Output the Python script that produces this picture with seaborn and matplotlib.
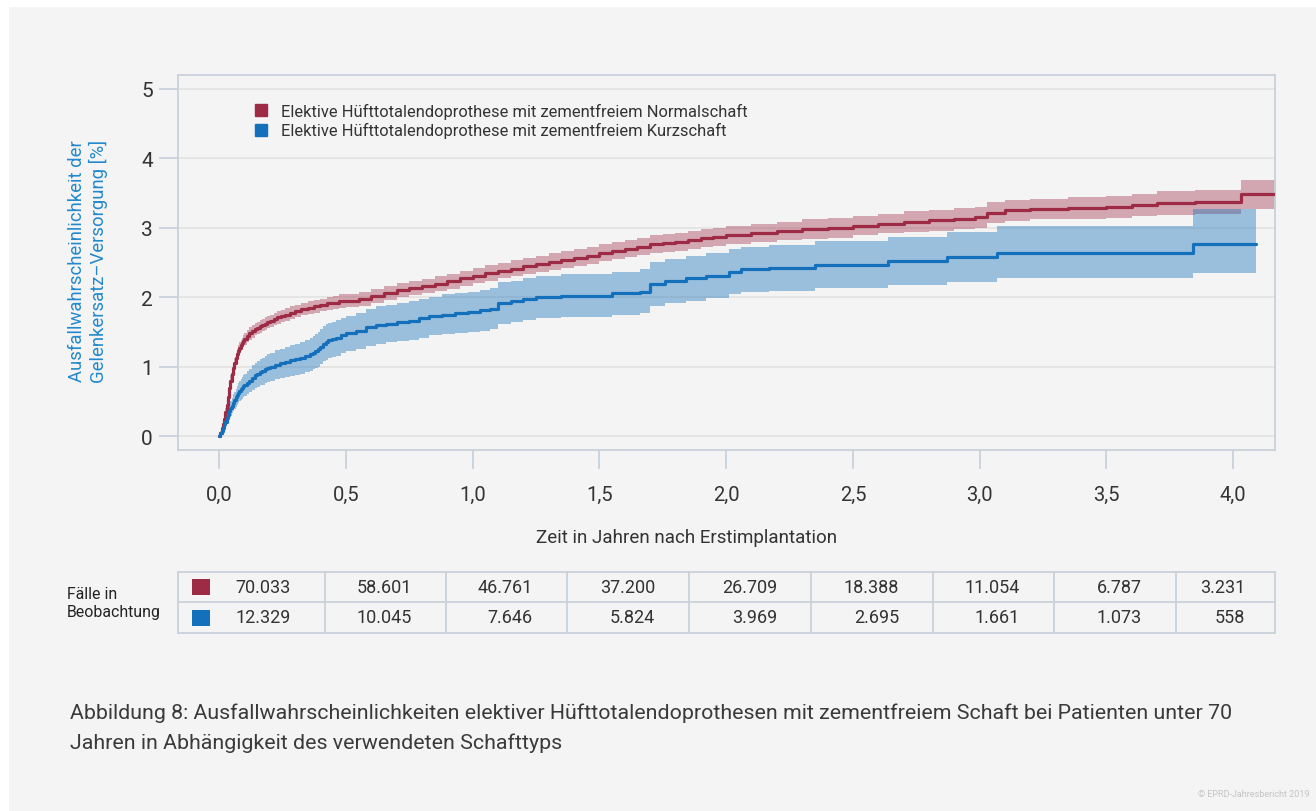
import matplotlib
matplotlib.use("Agg")
import matplotlib.pyplot as plt
from matplotlib.lines import Line2D
from matplotlib.patches import Rectangle
import pandas as pd
import seaborn as sns

# ── Data ────────────────────────────────────────────────────────────────────
LABEL_NORMAL = "Elektive Hüfttotalendoprothese mit zementfreiem Normalschaft"
LABEL_KURZ = "Elektive Hüfttotalendoprothese mit zementfreiem Kurzschaft"

t_normal = [0, 0.005, 0.01, 0.015, 0.02, 0.025, 0.03, 0.035, 0.04, 0.045,
            0.05, 0.055, 0.06, 0.065, 0.07, 0.075, 0.08, 0.085, 0.09, 0.095,
            0.10, 0.11, 0.12, 0.13, 0.14, 0.15, 0.16, 0.17, 0.18, 0.19,
            0.20, 0.215, 0.23, 0.245, 0.26, 0.28, 0.30, 0.325, 0.35, 0.375,
            0.40, 0.425, 0.45, 0.475, 0.50,
            0.55, 0.60, 0.65, 0.70, 0.75, 0.80, 0.85, 0.90, 0.95, 1.00, 1.05, 1.10,
            1.15, 1.20, 1.25, 1.30, 1.35, 1.40, 1.45, 1.50, 1.55, 1.60, 1.65, 1.70,
            1.75, 1.80, 1.85, 1.90, 1.95, 2.00, 2.10, 2.20, 2.30, 2.40, 2.50, 2.60,
            2.70, 2.80, 2.90, 2.98, 3.03, 3.10, 3.20, 3.35, 3.50, 3.60, 3.70, 3.85,
            4.03, 4.17]
est_normal = [0, 0.05, 0.12, 0.18, 0.25, 0.35, 0.45, 0.57, 0.70, 0.80,
              0.90, 0.98, 1.05, 1.12, 1.18, 1.23, 1.27, 1.31, 1.34, 1.37,
              1.40, 1.44, 1.48, 1.51, 1.54, 1.56, 1.58, 1.60, 1.62, 1.64,
              1.66, 1.69, 1.71, 1.73, 1.75, 1.78, 1.80, 1.83, 1.85, 1.87,
              1.89, 1.91, 1.92, 1.94, 1.95,
              1.98, 2.02, 2.06, 2.10, 2.13, 2.16, 2.19, 2.23, 2.27, 2.31, 2.35, 2.38,
              2.41, 2.45, 2.48, 2.51, 2.54, 2.57, 2.60, 2.64, 2.67, 2.70, 2.73, 2.76,
              2.78, 2.80, 2.82, 2.85, 2.87, 2.89, 2.92, 2.95, 2.98, 3.00, 3.03, 3.06,
              3.09, 3.11, 3.13, 3.15, 3.22, 3.25, 3.27, 3.29, 3.30, 3.33, 3.36, 3.37,
              3.48, 3.48]
lo_normal = [0, 0.03, 0.08, 0.13, 0.19, 0.29, 0.38, 0.50, 0.62, 0.72,
             0.82, 0.90, 0.97, 1.04, 1.10, 1.15, 1.19, 1.23, 1.26, 1.29,
             1.31, 1.35, 1.39, 1.42, 1.45, 1.47, 1.49, 1.51, 1.53, 1.55,
             1.57, 1.60, 1.62, 1.64, 1.66, 1.69, 1.71, 1.74, 1.76, 1.78,
             1.80, 1.82, 1.83, 1.85, 1.86,
             1.88, 1.92, 1.96, 2.00, 2.03, 2.06, 2.09, 2.12, 2.16, 2.20, 2.24, 2.27,
             2.30, 2.33, 2.36, 2.39, 2.42, 2.45, 2.48, 2.52, 2.55, 2.58, 2.61, 2.63,
             2.65, 2.67, 2.69, 2.72, 2.74, 2.76, 2.79, 2.82, 2.84, 2.86, 2.89, 2.92,
             2.94, 2.96, 2.98, 3.00, 3.07, 3.10, 3.12, 3.13, 3.14, 3.17, 3.19, 3.20,
             3.27, 3.27]
hi_normal = [0, 0.07, 0.16, 0.23, 0.31, 0.41, 0.52, 0.64, 0.78, 0.88,
             0.98, 1.06, 1.13, 1.20, 1.26, 1.31, 1.35, 1.39, 1.42, 1.45,
             1.49, 1.53, 1.57, 1.60, 1.63, 1.65, 1.67, 1.69, 1.71, 1.73,
             1.75, 1.78, 1.80, 1.82, 1.84, 1.87, 1.89, 1.92, 1.94, 1.96,
             1.98, 2.00, 2.02, 2.04, 2.05,
             2.08, 2.12, 2.16, 2.20, 2.23, 2.26, 2.30, 2.34, 2.38, 2.42, 2.46, 2.49,
             2.53, 2.57, 2.60, 2.63, 2.66, 2.69, 2.72, 2.76, 2.79, 2.82, 2.85, 2.89,
             2.91, 2.93, 2.95, 2.98, 3.00, 3.02, 3.05, 3.08, 3.12, 3.14, 3.17, 3.20,
             3.24, 3.26, 3.28, 3.30, 3.37, 3.40, 3.42, 3.45, 3.46, 3.49, 3.53, 3.54,
             3.69, 3.69]

t_kurz = [0, 0.005, 0.01, 0.015, 0.02, 0.025, 0.03, 0.035, 0.04, 0.045,
          0.05, 0.055, 0.06, 0.065, 0.07, 0.075, 0.08, 0.085, 0.09, 0.095,
          0.10, 0.11, 0.12, 0.13, 0.14, 0.15, 0.16, 0.17, 0.18, 0.19,
          0.20, 0.22, 0.24, 0.26, 0.28, 0.30, 0.32, 0.34, 0.36, 0.37,
          0.38, 0.39, 0.40, 0.41, 0.42, 0.43, 0.445, 0.46, 0.48, 0.50,
          0.54, 0.58, 0.62, 0.66, 0.70, 0.75, 0.79, 0.83, 0.88,
          0.93, 0.98, 1.03, 1.07, 1.10, 1.15, 1.20, 1.25, 1.35, 1.48, 1.55, 1.66,
          1.70, 1.76, 1.84, 1.92, 2.01, 2.06, 2.17, 2.35, 2.64, 2.87, 3.07, 3.84,
          4.09]
est_kurz = [0, 0.04, 0.08, 0.12, 0.17, 0.21, 0.26, 0.31, 0.36, 0.40,
            0.44, 0.48, 0.52, 0.56, 0.59, 0.62, 0.65, 0.68, 0.70, 0.72,
            0.74, 0.77, 0.80, 0.84, 0.88, 0.90, 0.92, 0.94, 0.96, 0.98,
            1.00, 1.03, 1.05, 1.07, 1.09, 1.11, 1.13, 1.15, 1.18, 1.20,
            1.22, 1.25, 1.29, 1.33, 1.36, 1.38, 1.40, 1.42, 1.45, 1.48,
            1.52, 1.57, 1.60, 1.62, 1.64, 1.66, 1.70, 1.73, 1.75,
            1.77, 1.79, 1.81, 1.83, 1.92, 1.94, 1.97, 2.00, 2.02, 2.02, 2.06, 2.08,
            2.19, 2.23, 2.27, 2.31, 2.37, 2.40, 2.42, 2.47, 2.52, 2.58, 2.63, 2.77,
            2.77]
lo_kurz = [0, 0.02, 0.04, 0.07, 0.11, 0.14, 0.18, 0.22, 0.26, 0.29,
           0.33, 0.36, 0.39, 0.42, 0.45, 0.48, 0.50, 0.52, 0.54, 0.56,
           0.58, 0.60, 0.63, 0.67, 0.70, 0.71, 0.73, 0.74, 0.76, 0.78,
           0.80, 0.82, 0.83, 0.85, 0.87, 0.88, 0.90, 0.92, 0.94, 0.96,
           0.98, 1.00, 1.04, 1.08, 1.10, 1.12, 1.14, 1.16, 1.19, 1.22,
           1.26, 1.30, 1.33, 1.35, 1.37, 1.39, 1.42, 1.45, 1.47,
           1.48, 1.50, 1.52, 1.54, 1.62, 1.64, 1.67, 1.70, 1.72, 1.72, 1.75, 1.77,
           1.87, 1.91, 1.95, 1.99, 2.04, 2.07, 2.09, 2.13, 2.17, 2.22, 2.28, 2.35,
           2.35]
hi_kurz = [0, 0.06, 0.12, 0.17, 0.23, 0.28, 0.34, 0.40, 0.46, 0.51,
           0.55, 0.60, 0.64, 0.68, 0.72, 0.76, 0.79, 0.82, 0.85, 0.88,
           0.90, 0.94, 0.97, 1.02, 1.06, 1.08, 1.11, 1.13, 1.15, 1.18,
           1.20, 1.24, 1.26, 1.29, 1.31, 1.33, 1.36, 1.38, 1.42, 1.44,
           1.47, 1.50, 1.54, 1.58, 1.61, 1.63, 1.65, 1.67, 1.70, 1.73,
           1.78, 1.83, 1.87, 1.89, 1.91, 1.94, 1.98, 2.01, 2.04,
           2.06, 2.08, 2.10, 2.13, 2.22, 2.24, 2.27, 2.30, 2.33, 2.33, 2.37, 2.40,
           2.51, 2.55, 2.59, 2.63, 2.70, 2.73, 2.75, 2.81, 2.87, 2.94, 3.03, 3.27,
           3.27]

x_ticks = [0.0, 0.5, 1.0, 1.5, 2.0, 2.5, 3.0, 3.5, 4.0]
x_tick_labels = ["0,0", "0,5", "1,0", "1,5", "2,0", "2,5", "3,0", "3,5", "4,0"]
y_ticks = [0, 1, 2, 3, 4, 5]

cases_normal = [70033, 58601, 46761, 37200, 26709, 18388, 11054, 6787, 3231]
cases_kurz = [12329, 10045, 7646, 5824, 3969, 2695, 1661, 1073, 558]

# ── Style ───────────────────────────────────────────────────────────────────
RED = "#9e2b46"
BLUE = "#1470bb"
BG = "#f4f4f4"
FRAME = "#c9d1dc"
TEXT = "#333333"
W, H = 1316, 812

sns.set_theme(style="white")
plt.rcParams["font.family"] = ["Roboto", "DejaVu Sans"]

fig = plt.figure(figsize=(W / 100, H / 100), dpi=100)
fig.patch.set_facecolor("white")

# overlay in pixel coordinates for background, table and free text
ov = fig.add_axes([0, 0, 1, 1], zorder=0)
ov.set_xlim(0, W)
ov.set_ylim(H, 0)
ov.axis("off")
ov.add_patch(Rectangle((9, 8), W - 9, H - 8, color=BG, lw=0))

ax = fig.add_axes([178 / W, 1 - 451 / H, (1275 - 178) / W, (451 - 76) / H], zorder=1)
ax.set_facecolor(BG)

# ── Curves ──────────────────────────────────────────────────────────────────
df_n = pd.DataFrame({"t": t_normal, "est": est_normal, "lo": lo_normal, "hi": hi_normal})
df_k = pd.DataFrame({"t": t_kurz, "est": est_kurz, "lo": lo_kurz, "hi": hi_kurz})

ax.fill_between(df_n["t"], df_n["lo"], df_n["hi"], step="post", color=RED, alpha=0.38, lw=0, zorder=2)
ax.fill_between(df_k["t"], df_k["lo"], df_k["hi"], step="post", color=BLUE, alpha=0.4, lw=0, zorder=3)
sns.lineplot(data=df_n, x="t", y="est", ax=ax, color=RED, linewidth=2.3,
             drawstyle="steps-post", estimator=None, zorder=4)
sns.lineplot(data=df_k, x="t", y="est", ax=ax, color=BLUE, linewidth=2.3,
             drawstyle="steps-post", estimator=None, zorder=5)

ax.set_xlim(-0.162, 4.165)
ax.set_ylim(-0.2, 5.2)
ax.set_xticks(x_ticks)
ax.set_xticklabels(x_tick_labels)
ax.set_yticks(y_ticks)
ax.set_xlabel("")
ax.set_ylabel("")
ax.yaxis.grid(True, color="#e3e3e3", linewidth=1.2, zorder=0)
ax.set_axisbelow(True)
for s in ax.spines.values():
    s.set_color(FRAME)
    s.set_linewidth(1.3)
ax.tick_params(axis="x", length=14, width=1.3, color=FRAME, pad=11,
               labelsize=14.5, labelcolor=TEXT, bottom=True)
ax.tick_params(axis="y", length=14, width=1.3, color=FRAME, pad=4,
               labelsize=15, labelcolor=TEXT, left=True)

handles = [Line2D([], [], marker="s", ls="none", color=RED, markersize=8.5),
           Line2D([], [], marker="s", ls="none", color=BLUE, markersize=8.5)]
ax.legend(handles, [LABEL_NORMAL, LABEL_KURZ], loc="upper left",
          bbox_to_anchor=(0.0702, 0.925), borderaxespad=0, borderpad=0,
          frameon=False, fontsize=11.9, handlelength=0.75, handletextpad=0.85,
          labelspacing=0.2, labelcolor=TEXT)

# ── Axis titles ─────────────────────────────────────────────────────────────
ov.text(88, 261, "Ausfallwahrscheinlichkeit der\nGelenkersatz–Versorgung [%]",
        rotation=90, ha="center", va="center", multialignment="center",
        color="#2389cc", fontsize=13.3, linespacing=1.15)
ov.text(687, 538, "Zeit in Jahren nach Erstimplantation", ha="center", va="center",
        color=TEXT, fontsize=13.5)

# ── Table of cases under observation ────────────────────────────────────────
col_edges = [178, 325, 446, 567, 689, 811, 933, 1054, 1176, 1275]
row_edges = [572.7, 603.3, 633.7]
for x in col_edges:
    ov.plot([x, x], [row_edges[0], row_edges[-1]], color=FRAME, lw=1.3)
for y in row_edges:
    ov.plot([col_edges[0], col_edges[-1]], [y, y], color=FRAME, lw=1.3)

for r, (vals, col) in enumerate([(cases_normal, RED), (cases_kurz, BLUE)]):
    yc = (row_edges[r] + row_edges[r + 1]) / 2
    ov.add_patch(Rectangle((192, yc - 8), 18, 16, color=col, lw=0))
    for c, v in enumerate(vals):
        pad = 30 if c == len(vals) - 1 else 34
        ov.text(col_edges[c + 1] - pad, yc, f"{v:,}".replace(",", "."),
                ha="right", va="center", fontsize=13, color=TEXT)

ov.text(67, 604, "Fälle in\nBeobachtung", ha="left", va="center",
        fontsize=11.4, color="#222222", linespacing=1.25)

# ── Caption ─────────────────────────────────────────────────────────────────
ov.text(70, 713, "Abbildung 8: Ausfallwahrscheinlichkeiten elektiver Hüfttotalendoprothesen "
        "mit zementfreiem Schaft bei Patienten unter 70", ha="left", va="center",
        fontsize=15.4, color="#3a3a3a")
ov.text(70, 743, "Jahren in Abhängigkeit des verwendeten Schafttyps", ha="left",
        va="center", fontsize=15.4, color="#3a3a3a")
ov.text(1310, 795, "© EPRD-Jahresbericht 2019", ha="right", va="center",
        fontsize=6.5, color="#c4c4c4")

fig.savefig("out.png", dpi=100)
